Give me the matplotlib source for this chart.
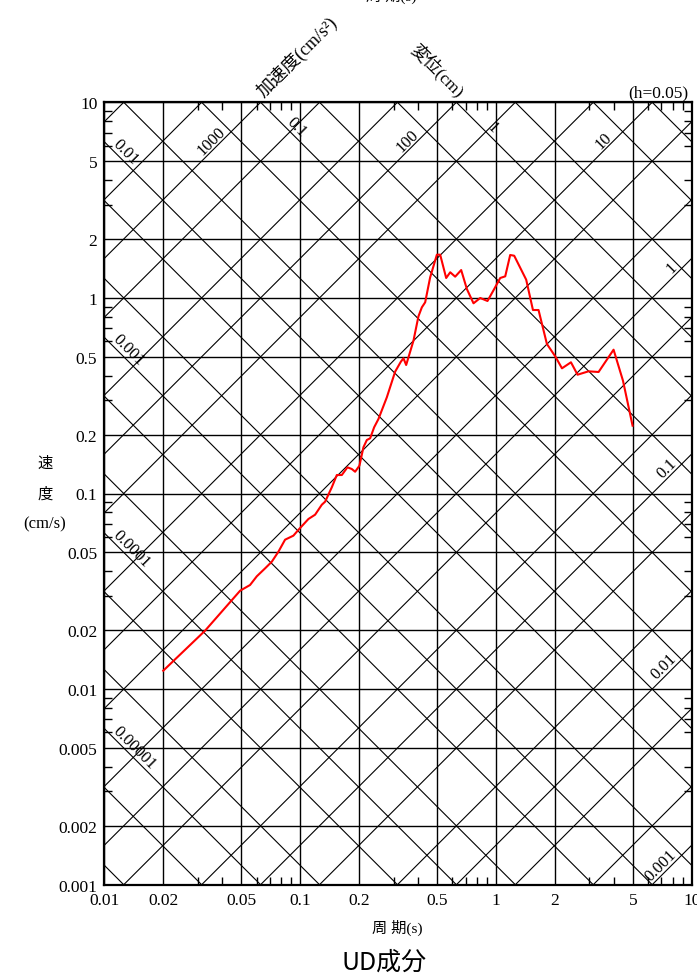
import numpy as np
import matplotlib
matplotlib.use("Agg")
import matplotlib.pyplot as plt
from matplotlib.ticker import FixedLocator, FixedFormatter, LogLocator, NullFormatter

# ---- data ----
period = [0.0200, 0.0327, 0.0494, 0.0555, 0.0601, 0.0663, 0.0717, 0.0775, 0.0838, 0.0924,
          0.0982, 0.1103, 0.1193, 0.1291, 0.1342, 0.1452, 0.1540, 0.1633, 0.1745, 0.1837,
          0.1910, 0.2009, 0.2106, 0.2192, 0.2279, 0.2389, 0.2513, 0.2773, 0.3057, 0.3270,
          0.3372, 0.3481, 0.3793, 0.4022, 0.4187, 0.4353, 0.4616, 0.4995, 0.5193, 0.5572,
          0.5843, 0.6194, 0.6648, 0.7108, 0.7684, 0.8315, 0.9060, 0.9802, 1.052, 1.116,
          1.183, 1.240, 1.428, 1.546, 1.651, 1.822, 2.009, 2.175, 2.417, 2.612,
          2.973, 3.345, 3.990, 4.457, 4.989]
velocity = [0.01242, 0.01989, 0.03185, 0.03405, 0.03773, 0.04146, 0.04481, 0.05042, 0.05806, 0.06087,
            0.06530, 0.07408, 0.07792, 0.08763, 0.09080, 0.1076, 0.1243, 0.1243, 0.1361, 0.1334,
            0.1292, 0.1387, 0.1723, 0.1877, 0.1915, 0.2181, 0.2404, 0.3103, 0.4194, 0.4719,
            0.4912, 0.4539, 0.6043, 0.8052, 0.8952, 0.9495, 1.274, 1.663, 1.663, 1.264,
            1.352, 1.284, 1.388, 1.110, 0.9384, 0.9988, 0.9643, 1.110, 1.264, 1.289,
            1.657, 1.643, 1.239, 0.8671, 0.8671, 0.5811, 0.5028, 0.4365, 0.4686, 0.4049,
            0.4214, 0.4180, 0.5435, 0.3773, 0.2222]

x_ticks = [0.01, 0.02, 0.05, 0.1, 0.2, 0.5, 1, 2, 5, 10]
x_tick_labels = ["0.01", "0.02", "0.05", "0.1", "0.2", "0.5", "1", "2", "5", "10"]
y_ticks = [0.001, 0.002, 0.005, 0.01, 0.02, 0.05, 0.1, 0.2, 0.5, 1, 2, 5, 10]
y_tick_labels = ["0.001", "0.002", "0.005", "0.01", "0.02", "0.05", "0.1", "0.2",
                 "0.5", "1", "2", "5", "10"]

acc_values = [0.001, 0.002, 0.005, 0.01, 0.02, 0.05, 0.1, 0.2, 0.5, 1, 2, 5,
              10, 20, 50, 100, 200, 500, 1000, 2000, 5000]
disp_values = [1e-6, 2e-6, 5e-6, 1e-5, 2e-5, 5e-5, 1e-4, 2e-4, 5e-4, 0.001, 0.002, 0.005,
               0.01, 0.02, 0.05, 0.1, 0.2, 0.5, 1, 2, 5, 10, 20, 50]

acc_top_labels = [1000, 100, 10]
acc_top_texts = ["1000", "100", "10"]
acc_right_labels = [1, 0.1, 0.01, 0.001]
acc_right_texts = ["1", "0.1", "0.01", "0.001"]
disp_top_labels = [0.1, 1]
disp_top_texts = ["0.1", "1"]
disp_left_labels = [0.01, 0.001, 0.0001, 0.00001]
disp_left_texts = ["0.01", "0.001", "0.0001", "0.00001"]

SERIF = ["Liberation Serif", "Noto Sans CJK JP"]
CJK = ["Noto Sans CJK JP", "DejaVu Sans"]
TWO_PI = 2 * np.pi

fig = plt.figure(figsize=(6.97, 9.78), dpi=100)
ax = fig.add_axes([104.3 / 697, 1 - 885.7 / 978, (691.7 - 104.3) / 697, (885.7 - 103.3) / 978])
ax.set_xscale("log")
ax.set_yscale("log")
ax.set_xlim(0.01, 10)
ax.set_ylim(0.001, 10)

# tripartite diagonal lines
t_end = np.array([0.01, 10.0])
for a in acc_values:
    ax.plot(t_end, a * t_end / TWO_PI, color="black", lw=0.8, zorder=1)
for d in disp_values:
    ax.plot(t_end, TWO_PI * d / t_end, color="black", lw=0.8, zorder=1)

# grid
ax.xaxis.set_major_locator(FixedLocator(x_ticks))
ax.xaxis.set_major_formatter(FixedFormatter(x_tick_labels))
ax.yaxis.set_major_locator(FixedLocator(y_ticks))
ax.yaxis.set_major_formatter(FixedFormatter(y_tick_labels))
ax.xaxis.set_minor_locator(LogLocator(base=10, subs=[3, 4, 6, 7, 8, 9], numticks=20))
ax.yaxis.set_minor_locator(LogLocator(base=10, subs=[3, 4, 6, 7, 8, 9], numticks=20))
ax.xaxis.set_minor_formatter(NullFormatter())
ax.yaxis.set_minor_formatter(NullFormatter())
ax.grid(which="major", color="black", lw=1.0, zorder=1)
ax.tick_params(which="major", length=0, pad=5, labelsize=12.5)
ax.tick_params(which="minor", direction="in", length=6, width=1.0,
               top=True, right=True, bottom=True, left=True)
for lab in ax.get_xticklabels() + ax.get_yticklabels():
    lab.set_family(SERIF)
for s in ax.spines.values():
    s.set_linewidth(1.6)

# curve
ax.plot(period, velocity, color="red", lw=1.5, zorder=5)

# diagonal labels
fs = 12
for a, txt in zip(acc_top_labels, acc_top_texts):
    t = TWO_PI * 6.0 / a
    ax.text(t, 6.0, txt, rotation=45, rotation_mode="anchor", ha="center", va="bottom",
            fontsize=fs, family=SERIF, zorder=6)
for a, txt in zip(acc_right_labels, acc_right_texts):
    t = 8.7
    ax.text(t, a * t / TWO_PI, txt, rotation=45, rotation_mode="anchor", ha="right",
            va="bottom", fontsize=fs, family=SERIF, zorder=6)
for d, txt in zip(disp_top_labels, disp_top_texts):
    t = TWO_PI * d / 7.0
    ax.text(t, 7.0, txt, rotation=-45, rotation_mode="anchor", ha="center", va="bottom",
            fontsize=fs, family=SERIF, zorder=6)
for d, txt in zip(disp_left_labels, disp_left_texts):
    t = 0.0106
    ax.text(t, TWO_PI * d / t, txt, rotation=-45, rotation_mode="anchor", ha="left",
            va="bottom", fontsize=fs, family=SERIF, zorder=6)

# figure texts
def fx(px):
    return px / 697

def fy(py):
    return 1 - py / 978

fig.text(fx(391), fy(4), "周 期(s)", ha="center", va="bottom", fontsize=11, family=SERIF)
fig.text(fx(297), fy(57), "加速度(cm/s²)", rotation=45, ha="center", va="center",
         fontsize=13, family=SERIF)
fig.text(fx(437), fy(70), "変位(cm)", rotation=-45, ha="center", va="center",
         fontsize=12.5, family=SERIF)
fig.text(fx(688), fy(97), "(h=0.05)", ha="right", va="baseline", fontsize=12.5, family=SERIF)
fig.text(fx(45), fy(463), "速", ha="center", va="center", fontsize=11, family=CJK)
fig.text(fx(45), fy(494), "度", ha="center", va="center", fontsize=11, family=CJK)
fig.text(fx(45), fy(524), "(cm/s)", ha="center", va="center", fontsize=12, family=SERIF)
fig.text(fx(397), fy(928), "周 期(s)", ha="center", va="center", fontsize=11, family=SERIF)
fig.text(fx(384), fy(963), "UD成分", ha="center", va="center", fontsize=18, family=CJK)

fig.savefig("out.png", dpi=100)
